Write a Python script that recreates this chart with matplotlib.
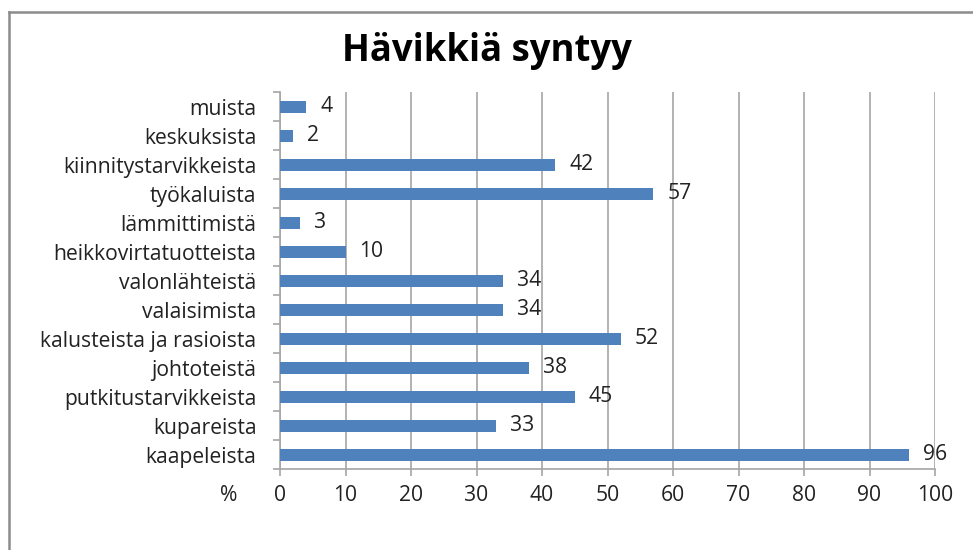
import matplotlib.pyplot as plt
from matplotlib.lines import Line2D
import numpy as np

plt.rcParams['font.family'] = ['Open Sans', 'DejaVu Sans']

categories = ["kaapeleista", "kupareista", "putkitustarvikkeista", "johtoteistä",
              "kalusteista ja rasioista", "valaisimista", "valonlähteistä",
              "heikkovirtatuotteista", "lämmittimistä", "työkaluista",
              "kiinnitystarvikkeista", "keskuksista", "muista"]
values = [96, 33, 45, 38, 52, 34, 34, 10, 3, 57, 42, 2, 4]
xticks = list(range(0, 101, 10))

fs = 15.2
txt = '#222222'

fig = plt.figure(figsize=(9.73, 5.5), dpi=100)
ax = fig.add_axes([0.2878, 0.1464, 0.6732, 0.6855])

y = np.arange(len(categories))
ax.barh(y, values, height=0.42, color='#4F81BD', zorder=3)

for yi, v in zip(y, values):
    ax.annotate(str(v), (v, yi), xytext=(10, 0), textcoords='offset points',
                va='center', ha='left', fontsize=fs, color=txt)

ax.set_xlim(0, 100)
ax.set_ylim(-0.5, len(categories) - 0.5)
ax.set_xticks(xticks)
ax.grid(axis='x', color='#A6A6A6', linewidth=1.2, zorder=0)

ax.set_yticks(y)
ax.set_yticklabels(categories, fontsize=fs, color=txt)
ax.set_yticks(np.arange(-0.5, len(categories)), minor=True)
ax.tick_params(axis='y', which='major', length=0, pad=17)
ax.tick_params(axis='y', which='minor', length=5, color='#A6A6A6', width=1.2)
ax.tick_params(axis='x', length=5, color='#A6A6A6', width=1.2, labelsize=fs,
               labelcolor=txt, pad=6)

for s in ['top', 'right']:
    ax.spines[s].set_visible(False)
for s in ['left', 'bottom']:
    ax.spines[s].set_color('#A6A6A6')
    ax.spines[s].set_linewidth(1.2)

ax.text(-0.079, -0.068, '%', transform=ax.transAxes, fontsize=fs, color=txt,
        ha='center', va='center')

fig.text(0.5, 0.908, "Hävikkiä syntyy", ha='center', va='center',
         fontsize=26.3, fontweight='bold', color='black')

# outer chart frame
fig.add_artist(Line2D([8.5 / 973, 1], [1 - 12 / 550, 1 - 12 / 550],
                      transform=fig.transFigure, color='#8C8C8C', linewidth=1.8))
fig.add_artist(Line2D([8.5 / 973, 8.5 / 973], [0, 1 - 12 / 550],
                      transform=fig.transFigure, color='#8C8C8C', linewidth=1.8))

fig.savefig('out.png', dpi=100)
